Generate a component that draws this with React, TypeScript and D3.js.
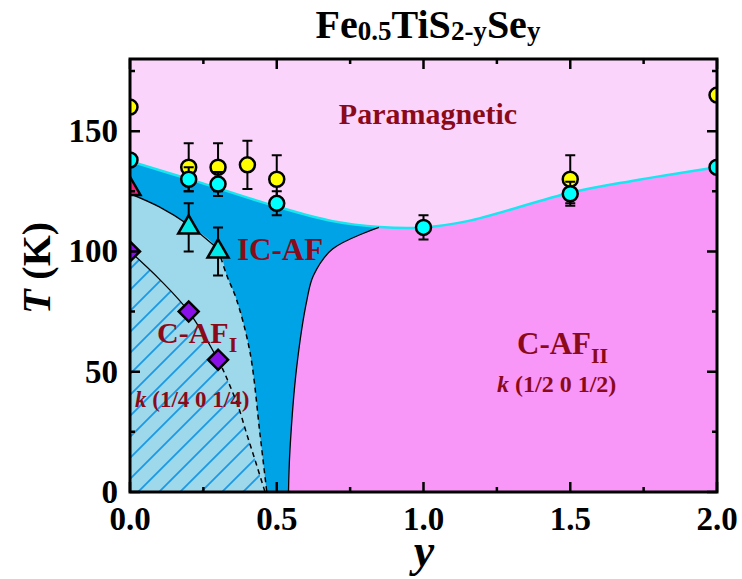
import React, { useEffect, useRef } from "react";
import * as d3 from "d3";

const width = 742;
const height = 579;
const font = "'Liberation Serif', 'Times New Roman', serif";
const labelColor = "#8B0A1A";

// measured points
const yellowY = [0, 0.2, 0.3, 0.4, 0.5, 1.5, 2.0];
const yellowT = [160, 135, 135, 136, 130, 130, 165];
const yellowErr = [0, 10, 10, 10, 10, 10, 0];

const cyanY = [0, 0.2, 0.3, 0.5, 1.0, 1.5, 2.0];
const cyanT = [138, 130, 128, 120, 110, 124, 135];
const cyanErr = [0, 5, 5, 5, 5, 5, 0];

const triY = [0.2, 0.3];
const triT = [110, 100];
const triErr = [10, 10];

const pinkY = [0];
const pinkT = [126];

const diamondY = [0, 0.2, 0.3];
const diamondT = [100, 75, 55];

// phase boundaries [y, T]
const tnLine: [number, number][] = [
  [0, 137.5], [0.24, 128.6], [0.49, 119], [0.69, 112.6], [0.85, 110.2],
  [1.0, 110], [1.15, 112.6], [1.5, 124.4], [1.71, 129.3], [2.0, 135]
];
const icLine: [number, number][] = [
  [0.54, 0], [0.545, 17.5], [0.568, 52], [0.603, 80], [0.625, 90], [0.69, 101], [0.848, 110]
];
const cafISolid: [number, number][] = [[0, 124], [0.1, 118.5], [0.2, 111], [0.3, 101]];
const cafIDashed: [number, number][] = [
  [0.3, 101], [0.33, 90], [0.363, 80], [0.409, 58], [0.443, 24], [0.466, 0]
];
const hatchSolid: [number, number][] = [[0, 100], [0.1, 88.5], [0.2, 75], [0.3, 55]];
const hatchDashed: [number, number][] = [
  [0.3, 55], [0.32, 50], [0.341, 44], [0.369, 35.5], [0.397, 24.4], [0.426, 13.3], [0.455, 2], [0.46, 0]
];

const xTicks = [0, 0.5, 1.0, 1.5, 2.0];
const xMinor = [0.25, 0.75, 1.25, 1.75];
const yTicks = [0, 50, 100, 150];
const yMinor = [25, 75, 125, 175];

const App = () => {
  const chart = useRef<SVGSVGElement>(null);

  useEffect(() => {
    const svg = d3.select(chart.current);
    svg.selectAll("*").remove();

    const x = d3.scaleLinear().domain([0, 2]).range([130, 717]);
    const y = d3.scaleLinear().domain([0, 180]).range([492, 59]);
    const x0 = x(0), x1 = x(2), y0 = y(0), y1 = y(180);

    const line = d3
      .line<[number, number]>()
      .x(d => x(d[0]))
      .y(d => y(d[1]))
      .curve(d3.curveCatmullRom.alpha(0.5));

    const defs = svg.append("defs");
    defs.append("clipPath").attr("id", "plotClip")
      .append("rect").attr("x", x0).attr("y", y1).attr("width", x1 - x0).attr("height", y0 - y1);
    defs.append("clipPath").attr("id", "belowTN")
      .append("path")
      .attr("d", line(tnLine) + `L${x1},${y0}L${x0},${y0}Z`);
    const pat = defs.append("pattern").attr("id", "hatch")
      .attr("patternUnits", "userSpaceOnUse").attr("width", 21).attr("height", 21);
    pat.append("path")
      .attr("d", "M-5,5L5,-5M0,21L21,0M16,26L26,16")
      .attr("stroke", "#1A9AE6").attr("stroke-width", 1.8);

    const plot = svg.append("g").attr("clip-path", "url(#plotClip)");
    plot.append("rect").attr("x", x0).attr("y", y1).attr("width", x1 - x0).attr("height", y0 - y1)
      .attr("fill", "#FBD4FB");

    const low = plot.append("g").attr("clip-path", "url(#belowTN)");
    low.append("rect").attr("x", x0).attr("y", y1).attr("width", x1 - x0).attr("height", y0 - y1)
      .attr("fill", "#F997F9");
    low.append("path")
      .attr("d", line(icLine) + `L${x(0.87)},${y1}L${x0},${y1}L${x0},${y0}Z`)
      .attr("fill", "#00A3E6");
    low.append("path")
      .attr("d", line([...cafISolid, ...cafIDashed.slice(1)]) + `L${x0},${y0}Z`)
      .attr("fill", "#9DD8EB");
    low.append("path")
      .attr("d", line([...hatchSolid, ...hatchDashed.slice(1)]) + `L${x0},${y0}Z`)
      .attr("fill", "url(#hatch)");

    plot.append("path").attr("d", line(tnLine)).attr("fill", "none")
      .attr("stroke", "#18E6F0").attr("stroke-width", 2.5);
    plot.append("path").attr("d", line(icLine)).attr("fill", "none")
      .attr("stroke", "#000").attr("stroke-width", 1.3);
    plot.append("path").attr("d", line(cafISolid)).attr("fill", "none")
      .attr("stroke", "#000").attr("stroke-width", 1.3);
    plot.append("path").attr("d", line(cafIDashed)).attr("fill", "none")
      .attr("stroke", "#000").attr("stroke-width", 1.5).attr("stroke-dasharray", "5,4");
    plot.append("path").attr("d", line(hatchSolid)).attr("fill", "none")
      .attr("stroke", "#000").attr("stroke-width", 1.3);
    plot.append("path").attr("d", line(hatchDashed)).attr("fill", "none")
      .attr("stroke", "#000").attr("stroke-width", 1.5).attr("stroke-dasharray", "5,4");

    const errBars = (xs: number[], ts: number[], errs: number[]) => {
      xs.forEach((v, i) => {
        if (!errs[i]) return;
        const cx = x(v);
        const top = y(ts[i] + errs[i]);
        const bot = y(ts[i] - errs[i]);
        plot.append("path")
          .attr("d", `M${cx},${top}L${cx},${bot}M${cx - 5},${top}L${cx + 5},${top}M${cx - 5},${bot}L${cx + 5},${bot}`)
          .attr("stroke", "#000").attr("stroke-width", 2).attr("fill", "none");
      });
    };
    const circles = (xs: number[], ts: number[], fill: string) => {
      xs.forEach((v, i) => {
        plot.append("circle").attr("cx", x(v)).attr("cy", y(ts[i])).attr("r", 7.5)
          .attr("fill", fill).attr("stroke", "#000").attr("stroke-width", 2.5);
      });
    };
    const symbols = (xs: number[], ts: number[], type: d3.SymbolType, size: number, rot: number, fill: string) => {
      const sym = d3.symbol().type(type).size(size);
      xs.forEach((v, i) => {
        plot.append("path").attr("d", sym()!)
          .attr("transform", `translate(${x(v)},${y(ts[i])}) rotate(${rot})`)
          .attr("fill", fill).attr("stroke", "#000").attr("stroke-width", 2.5)
          .attr("stroke-linejoin", "miter");
      });
    };

    errBars(yellowY, yellowT, yellowErr);
    circles(yellowY, yellowT, "#FFFF00");
    errBars(cyanY, cyanT, cyanErr);
    circles(cyanY, cyanT, "#00FFFF");
    errBars(triY, triT, triErr);
    symbols(triY, triT, d3.symbolTriangle, 190, 0, "#00E8E8");
    symbols(pinkY, pinkT, d3.symbolTriangle, 190, 0, "#F0207E");
    symbols(diamondY, diamondT, d3.symbolSquare, 200, 45, "#8A10E8");

    // frame and ticks
    const ax = svg.append("g").attr("stroke", "#000").attr("fill", "none");
    ax.append("rect").attr("x", x0).attr("y", y1).attr("width", x1 - x0).attr("height", y0 - y1)
      .attr("stroke-width", 3);
    const tick = (d: string, w: number) => ax.append("path").attr("d", d).attr("stroke-width", w);
    xTicks.forEach(v => {
      tick(`M${x(v)},${y0}V${y0 - 10}M${x(v)},${y1}V${y1 + 10}`, 2.5);
    });
    xMinor.forEach(v => {
      tick(`M${x(v)},${y0}V${y0 - 5}M${x(v)},${y1}V${y1 + 5}`, 2.5);
    });
    yTicks.forEach(v => {
      tick(`M${x0},${y(v)}H${x0 + 10}M${x1},${y(v)}H${x1 - 10}`, 2.5);
    });
    yMinor.forEach(v => {
      tick(`M${x0},${y(v)}H${x0 + 5}M${x1},${y(v)}H${x1 - 5}`, 2.5);
    });

    const txt = svg.append("g").attr("font-family", font).attr("font-weight", "bold");
    xTicks.forEach(v => {
      txt.append("text").attr("x", x(v)).attr("y", 530).attr("text-anchor", "middle")
        .attr("font-size", 33).text(d3.format(".1f")(v));
    });
    yTicks.forEach(v => {
      txt.append("text").attr("x", 118).attr("y", y(v) + 11).attr("text-anchor", "end")
        .attr("font-size", 33).text(String(v));
    });

    const yl = txt.append("text").attr("transform", "translate(50,268) rotate(-90)")
      .attr("text-anchor", "middle").attr("font-size", 40);
    yl.append("tspan").attr("font-style", "italic").text("T");
    yl.append("tspan").text(" (K)");

    txt.append("text").attr("x", 424).attr("y", 566).attr("text-anchor", "middle")
      .attr("font-size", 46).attr("font-style", "italic").text("y");

    const title = txt.append("text").attr("x", 428).attr("y", 38).attr("text-anchor", "middle");
    const parts: [string, boolean][] = [["Fe", false], ["0.5", true], ["TiS", false], ["2-y", true], ["Se", false], ["y", true]];
    parts.forEach(([s, sub], i) => {
      const prevSub = i > 0 && parts[i - 1][1];
      title.append("tspan").attr("font-size", sub ? 27 : 40)
        .attr("dy", sub ? 2 : prevSub ? -2 : 0).text(s);
    });

    const lab = txt.append("g").attr("fill", labelColor);
    lab.append("text").attr("x", 428).attr("y", 124).attr("text-anchor", "middle")
      .attr("font-size", 30).text("Paramagnetic");
    lab.append("text").attr("x", 237).attr("y", 260).attr("font-size", 31).text("IC-AF");

    const c1 = lab.append("text").attr("x", 157).attr("y", 343).attr("font-size", 30);
    c1.append("tspan").text("C-AF");
    c1.append("tspan").attr("font-size", 22).attr("dy", 9).text("I");
    const k1 = lab.append("text").attr("x", 135).attr("y", 407).attr("font-size", 23);
    k1.append("tspan").attr("font-style", "italic").text("k");
    k1.append("tspan").text(" (1/4 0 1/4)");

    const c2 = lab.append("text").attr("x", 517).attr("y", 354).attr("font-size", 31);
    c2.append("tspan").text("C-AF");
    c2.append("tspan").attr("font-size", 22).attr("dy", 9).text("II");
    const k2 = lab.append("text").attr("x", 497).attr("y", 392).attr("font-size", 24);
    k2.append("tspan").attr("font-style", "italic").text("k");
    k2.append("tspan").text(" (1/2 0 1/2)");
  }, []);

  return (
    <svg
      ref={chart}
      width={width}
      height={height}
      viewBox={`0 0 ${width} ${height}`}
      style={{ position: "absolute", left: 0, top: 0, background: "#fff" }}
    ></svg>
  );
};

export default App;
